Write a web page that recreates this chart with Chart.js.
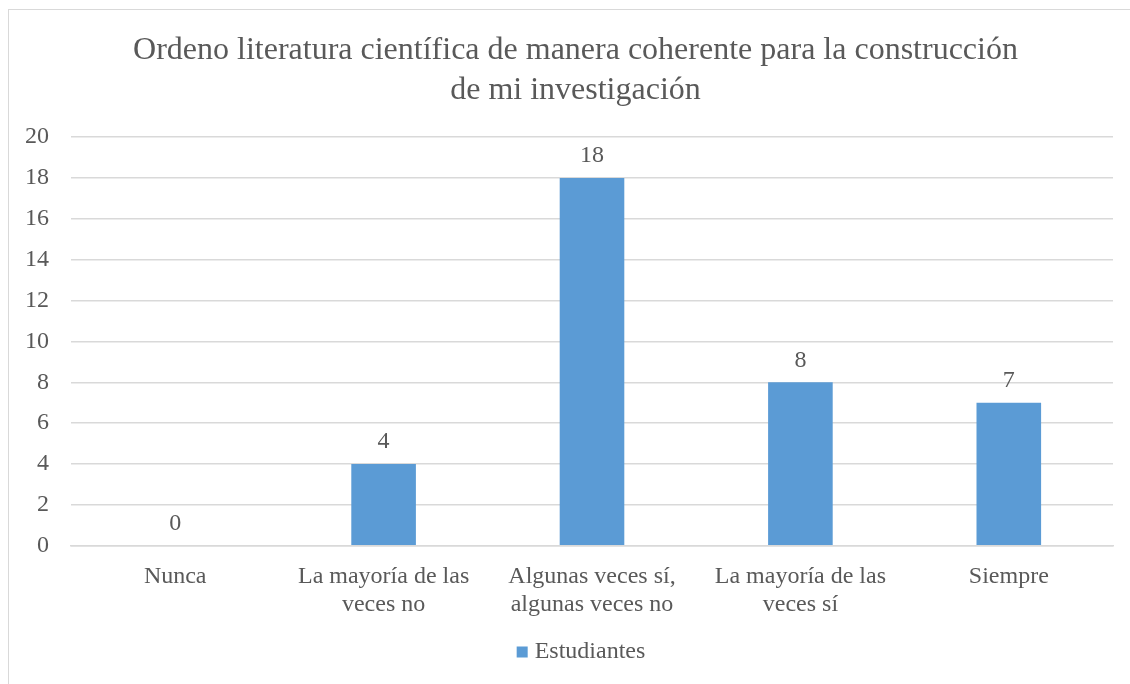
<!DOCTYPE html>
<html>
<head>
<meta charset="utf-8">
<script src="https://cdn.jsdelivr.net/npm/chart.js@4/dist/chart.umd.min.js"></script>
<style>
  html, body { margin: 0; padding: 0; background: #fff; }
  #wrap { position: relative; width: 1130px; height: 684px; }
  #frame { position: absolute; left: 8px; top: 9px; width: 1140px; height: 700px; border: 1px solid #d9d9d9; box-sizing: border-box; }
  canvas { position: absolute; left: 0; top: 0; }
</style>
</head>
<body>
<div id="wrap">
  <div id="frame"></div>
  <canvas id="chart" width="1130" height="684"></canvas>
</div>
<script>
const categories = [
    'Nunca',
    ['La mayoría de las', 'veces no'],
    ['Algunas veces sí,', 'algunas veces no'],
    ['La mayoría de las', 'veces sí'],
    'Siempre'
];
const estudiantes = [0, 4, 18, 8, 7];
const titleLines = ['Ordeno literatura científica de manera coherente para la construcción', 'de mi investigación'];
const serieName = 'Estudiantes';

const FONT = "'Liberation Serif', 'Times New Roman', serif";
const TEXT = '#595959';
const BLUE = '#5b9bd5';

// título centrado en el marco completo (no en el área del gráfico)
const frameTitle = {
    id: 'frameTitle',
    afterDraw(chart) {
        const ctx = chart.ctx;
        ctx.save();
        ctx.font = `32px ${FONT}`;
        ctx.fillStyle = TEXT;
        ctx.textAlign = 'center';
        ctx.textBaseline = 'middle';
        titleLines.forEach((line, i) => ctx.fillText(line, 575.5, 51 + i * 40));
        ctx.restore();
    }
};

// leyenda simple abajo
const bottomLegend = {
    id: 'bottomLegend',
    afterDraw(chart) {
        const ctx = chart.ctx;
        ctx.save();
        ctx.font = `24px ${FONT}`;
        const w = ctx.measureText(serieName).width;
        const total = 11 + 7 + w;
        const x0 = 581 - total / 2;
        const y = 652;
        ctx.fillStyle = BLUE;
        ctx.fillRect(x0, y - 5.5, 11, 11);
        ctx.fillStyle = TEXT;
        ctx.textBaseline = 'middle';
        ctx.fillText(serieName, x0 + 18, y);
        ctx.restore();
    }
};

// dibuja el valor encima de cada barra
const valueLabels = {
    id: 'valueLabels',
    afterDatasetsDraw(chart) {
        const ctx = chart.ctx;
        const meta = chart.getDatasetMeta(0);
        ctx.save();
        ctx.font = `24px ${FONT}`;
        ctx.fillStyle = TEXT;
        ctx.textAlign = 'center';
        ctx.textBaseline = 'middle';
        meta.data.forEach((bar, i) => {
            ctx.fillText(String(estudiantes[i]), bar.x, bar.y - 22);
        });
        ctx.restore();
    }
};

new Chart(document.getElementById('chart'), {
    type: 'bar',
    data: {
        labels: categories,
        datasets: [{
            label: serieName,
            data: estudiantes,
            backgroundColor: BLUE,
            categoryPercentage: 1,
            barPercentage: 0.31
        }]
    },
    options: {
        responsive: false,
        animation: false,
        layout: { padding: { left: 0, right: 17, top: 137, bottom: 56 } },
        plugins: {
            title: { display: false },
            legend: { display: false },
            tooltip: { enabled: false }
        },
        scales: {
            x: {
                grid: { display: false },
                border: { color: '#d9d9d9', width: 1.5 },
                ticks: {
                    color: TEXT,
                    font: { family: FONT, size: 24, lineHeight: 1.17 },
                    maxRotation: 0,
                    padding: 9
                }
            },
            y: {
                min: 0,
                max: 20,
                afterFit(scale) { scale.width = 71; },
                grid: { color: '#d9d9d9', lineWidth: 1.5, drawTicks: false },
                border: { display: false },
                ticks: {
                    stepSize: 2,
                    color: TEXT,
                    font: { family: FONT, size: 24 },
                    padding: 22
                }
            }
        }
    },
    plugins: [valueLabels, frameTitle, bottomLegend]
});
</script>
</body>
</html>
